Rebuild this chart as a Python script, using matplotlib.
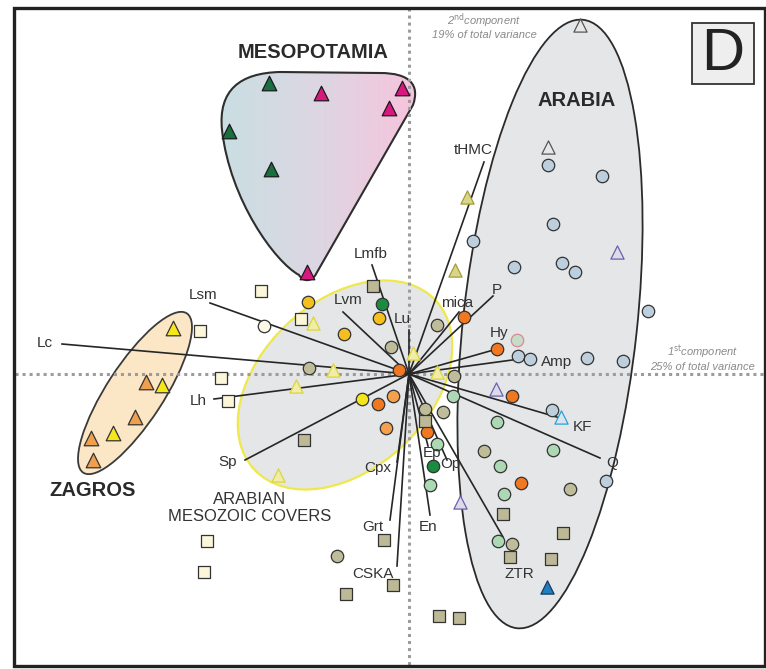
import numpy as np
import matplotlib
matplotlib.use("Agg")
import matplotlib.pyplot as plt
from matplotlib.patches import Ellipse, PathPatch, Rectangle
from matplotlib.path import Path
from matplotlib.colors import LinearSegmentedColormap

plt.rcParams['font.family'] = ['Liberation Sans', 'DejaVu Sans']

# ---- PCA scores (1st component, 2nd component) ----
arabia_circ_x = [1.39, 1.93, 1.44, 0.64, 1.05, 1.53, 1.66, 2.39, 1.09, 1.21, 1.78, 2.14, 1.43, 1.97]
arabia_circ_y = [2.09, 1.98, 1.50, 1.33, 1.07, 1.11, 1.02, 0.63, 0.18, 0.15, 0.16, 0.13, -0.36, -1.07]

green_circ_x = [0.44, 0.88, 0.28, 1.44, 0.91, 0.21, 0.95, 0.89]
green_circ_y = [-0.22, -0.48, -0.70, -0.76, -0.92, -1.11, -1.20, -1.67]

khaki_circ_x = [0.28, -0.18, 0.45, 0.16, 0.34, 0.75, 1.61, 1.03, -1.00, -0.72]
khaki_circ_y = [0.49, 0.27, -0.02, -0.35, -0.38, -0.77, -1.15, -1.70, 0.06, -1.82]

orange_circ_x = [0.55, 0.88, -0.10, 1.03, 0.18, -0.31, 1.12]
orange_circ_y = [0.57, 0.25, 0.04, -0.22, -0.58, -0.30, -1.09]

lorange_circ_x = [-0.16, -0.23]
lorange_circ_y = [-0.22, -0.54]

gold_circ_x = [-1.01, -0.30, -0.65]
gold_circ_y = [0.72, 0.56, 0.40]

yellow_circ_x = [-0.47]
yellow_circ_y = [-0.25]

dgreen_circ_x = [-0.27, 0.24]
dgreen_circ_y = [0.70, -0.92]

white_circ_x = [-1.45]
white_circ_y = [0.48]

hy_circ_x = [1.08]
hy_circ_y = [0.34]

cream_sq_x = [-1.48, -2.09, -1.08, -1.88, -1.81, -2.02, -2.05]
cream_sq_y = [0.83, 0.43, 0.55, -0.04, -0.27, -1.67, -1.98]

khaki_sq_x = [-0.36, 0.16, -1.05, 0.94, 1.54, 1.01, 1.42, -0.25, -0.16, -0.63, 0.30, 0.50]
khaki_sq_y = [0.88, -0.47, -0.66, -1.40, -1.59, -1.83, -1.85, -1.66, -2.11, -2.20, -2.42, -2.44]

pale_tri_x = [-0.96, 0.04, 0.28, -0.76, -1.13, -1.31]
pale_tri_y = [0.51, 0.21, 0.02, 0.04, -0.12, -1.01]

olive_tri_x = [0.58, 0.46]
olive_tri_y = [1.77, 1.04]

gray_tri_x = [1.71, 1.39]
gray_tri_y = [3.49, 2.27]

purple_tri_x = [2.08, 0.87, 0.51]
purple_tri_y = [1.22, -0.15, -1.28]

cyan_tri_x = [1.52]
cyan_tri_y = [-0.43]

blue_tri_x = [1.38]
blue_tri_y = [-2.13]

zag_orange_x = [-2.63, -2.74, -3.18, -3.16]
zag_orange_y = [-0.08, -0.43, -0.64, -0.86]
zag_yellow_x = [-2.36, -2.47, -2.96]
zag_yellow_y = [0.46, -0.11, -0.59]

meso_green_x = [-1.40, -1.80, -1.38]
meso_green_y = [2.91, 2.43, 2.05]
meso_mag_x = [-0.88, -0.07, -0.20, -1.02]
meso_mag_y = [2.81, 2.86, 2.66, 1.02]

# ---- loadings (vector ends) and their labels ----
vec_names = ['Lc', 'Lsm', 'Lh', 'Sp', 'Lvm', 'Lmfb', 'Lu', 'mica', 'P', 'tHMC', 'Hy',
             'Amp', 'KF', 'Q', 'ZTR', 'Op', 'Ep', 'En', 'Cpx', 'Grt', 'CSKA']
vec_x = [-3.47, -1.99, -1.95, -1.64, -0.66, -0.37, 0.00, 0.50, 0.84, 0.75, 0.88,
         1.18, 1.51, 1.91, 0.94, 0.38, 0.19, 0.21, -0.12, -0.19, -0.12]
vec_y = [0.30, 0.71, -0.25, -0.86, 0.62, 1.09, 0.44, 0.62, 0.78, 2.12, 0.25,
         0.16, -0.44, -0.84, -1.63, -0.86, -0.72, -1.41, -0.88, -1.46, -1.92]
lab_x = [-3.64, -2.06, -2.11, -1.81, -0.61, -0.38, -0.07, 0.48, 0.88, 0.64, 0.90,
         1.48, 1.73, 2.03, 1.10, 0.41, 0.23, 0.19, -0.31, -0.36, -0.36]
lab_y = [0.31, 0.79, -0.27, -0.88, 0.74, 1.20, 0.55, 0.71, 0.84, 2.24, 0.41,
         0.12, -0.53, -0.89, -2.00, -0.90, -0.79, -1.53, -0.94, -1.53, -2.00]

fig = plt.figure(figsize=(7.66, 6.69), dpi=100)
ax = fig.add_axes([0, 0, 1, 1])
ax.axis('off')

EDGE = '#333333'

# group outlines
ax.add_patch(Ellipse((1.41, 0.50), 1.74, 6.12, angle=-6.2, fc='#e4e6e7', ec='#2b2b2b', lw=1.3, zorder=1))
ax.add_patch(Ellipse((-0.64, -0.11), 2.48, 1.68, angle=43, fc='#e5e6e8', ec='#efe84c', lw=1.6, zorder=1))
ax.add_patch(Ellipse((-2.74, -0.19), 1.90, 0.57, angle=57, fc='#fbe7c6', ec='#3a3a3a', lw=1.3, zorder=1))

meso_verts = [(-1.10, 0.99), (-1.34, 1.12), (-1.79, 1.74), (-1.87, 2.44),
              (-1.91, 2.84), (-1.69, 3.01), (-1.29, 3.02), (-0.29, 3.01),
              (0.01, 3.01), (0.11, 2.89), (0.04, 2.69), (-0.93, 1.00),
              (-0.97, 0.92), (-1.06, 0.92), (-1.10, 0.99), (-1.10, 0.99)]
meso_codes = [Path.MOVETO, Path.CURVE4, Path.CURVE4, Path.CURVE4,
              Path.CURVE4, Path.CURVE4, Path.CURVE4, Path.LINETO,
              Path.CURVE4, Path.CURVE4, Path.CURVE4, Path.LINETO,
              Path.CURVE4, Path.CURVE4, Path.CURVE4, Path.CLOSEPOLY]
meso_path = Path(meso_verts, meso_codes)
meso_patch = PathPatch(meso_path, fc='none', ec='#2e2e2e', lw=1.5, zorder=2)
ax.add_patch(meso_patch)
cmap = LinearSegmentedColormap.from_list('meso', ['#c8dfe2', '#ddd6e2', '#f8c3dc'])
grad = np.linspace(0, 1, 256).reshape(1, -1)
im = ax.imshow(grad, extent=[-1.92, 0.12, 0.90, 3.04], cmap=cmap, aspect='auto', zorder=1)
im.set_clip_path(meso_patch)

# dotted component axes
ax.plot([-3.94, 3.57], [0, 0], color='#9c9c9c', lw=2.2, ls=(0, (1, 1.3)), zorder=2)
ax.plot([0, 0], [3.66, -2.92], color='#9c9c9c', lw=2.2, ls=(0, (1, 1.3)), zorder=2)

# loading vectors
for vx, vy in zip(vec_x, vec_y):
    ax.plot([0, vx], [0, vy], color='#262626', lw=1.2, zorder=3)
for name, tx, ty in zip(vec_names, lab_x, lab_y):
    ax.text(tx, ty, name, fontsize=11, color='#333333', ha='center', va='center', zorder=6)

def pts(x, y, marker, fc, s, ec=EDGE):
    ax.scatter(x, y, marker=marker, s=s, c=fc, edgecolors=ec, linewidths=0.9, zorder=4)

pts(arabia_circ_x, arabia_circ_y, 'o', '#bdcfdc', 80)
pts(green_circ_x, green_circ_y, 'o', '#acd8b4', 80)
pts(khaki_circ_x, khaki_circ_y, 'o', '#bfbc9a', 80)
pts(orange_circ_x, orange_circ_y, 'o', '#f27820', 80)
pts(lorange_circ_x, lorange_circ_y, 'o', '#f5a04c', 80)
pts(gold_circ_x, gold_circ_y, 'o', '#f5c01e', 80)
pts(yellow_circ_x, yellow_circ_y, 'o', '#f4e41c', 80)
pts(dgreen_circ_x, dgreen_circ_y, 'o', '#1a8c40', 80)
pts(white_circ_x, white_circ_y, 'o', '#fbf8e6', 80)
pts(hy_circ_x, hy_circ_y, 'o', '#c7dcc8', 80, ec='#d98896')
pts(cream_sq_x, cream_sq_y, 's', '#fbf7d8', 66)
pts(khaki_sq_x, khaki_sq_y, 's', '#bdb996', 66)
pts(pale_tri_x, pale_tri_y, '^', '#efeda8', 90, ec='#ddd43a')
pts(olive_tri_x, olive_tri_y, '^', '#d9d68a', 90, ec='#a39d38')
pts(gray_tri_x, gray_tri_y, '^', '#e8e8e8', 90, ec='#555555')
pts(purple_tri_x, purple_tri_y, '^', '#dcdce8', 90, ec='#6d5fb0')
pts(cyan_tri_x, cyan_tri_y, '^', '#d8e6ee', 90, ec='#2aa0dc')
pts(blue_tri_x, blue_tri_y, '^', '#1f7fc0', 90, ec='#1a3a5a')
pts(zag_orange_x, zag_orange_y, '^', '#eea04e', 110)
pts(zag_yellow_x, zag_yellow_y, '^', '#f6e71d', 110)
pts(meso_green_x, meso_green_y, '^', '#1b6e3e', 110, ec='#1a1a1a')
pts(meso_mag_x, meso_mag_y, '^', '#d8187e', 110, ec='#1a1a1a')

# group names
ax.text(-0.96, 3.22, 'MESOPOTAMIA', fontsize=14.5, fontweight='bold', color='#2a2a2a', ha='center', va='center')
ax.text(1.68, 2.74, 'ARABIA', fontsize=14.5, fontweight='bold', color='#2a2a2a', ha='center', va='center')
ax.text(-3.16, -1.16, 'ZAGROS', fontsize=14.5, fontweight='bold', color='#2a2a2a', ha='center', va='center')
ax.text(-1.59, -1.34, 'ARABIAN\nMESOZOIC COVERS', fontsize=12, color='#333333', ha='center', va='center',
        linespacing=1.1)

# component captions
ax.text(0.75, 3.48, '2$^{\\rm nd}$component\n19% of total variance', fontsize=8, style='italic',
        color='#8a8a8a', ha='center', va='center', linespacing=1.05)
ax.text(2.94, 0.165, '1$^{\\rm st}$component\n25% of total variance', fontsize=8, style='italic',
        color='#8a8a8a', ha='center', va='center', linespacing=1.05)

# panel letter
ax.add_patch(Rectangle((2.83, 2.90), 0.62, 0.61, fc='#eeeeee', ec='#333333', lw=1.3, zorder=5))
ax.text(3.14, 3.20, 'D', fontsize=43, color='#222222', ha='center', va='center', zorder=6)

# frame
ax.add_patch(Rectangle((-3.95, -2.92), 7.51, 6.58, fc='none', ec='#222222', lw=2.4, zorder=7))

ax.set_xlim(-4.09, 3.57)
ax.set_ylim(-2.95, 3.74)

plt.savefig('out.png', dpi=100)
